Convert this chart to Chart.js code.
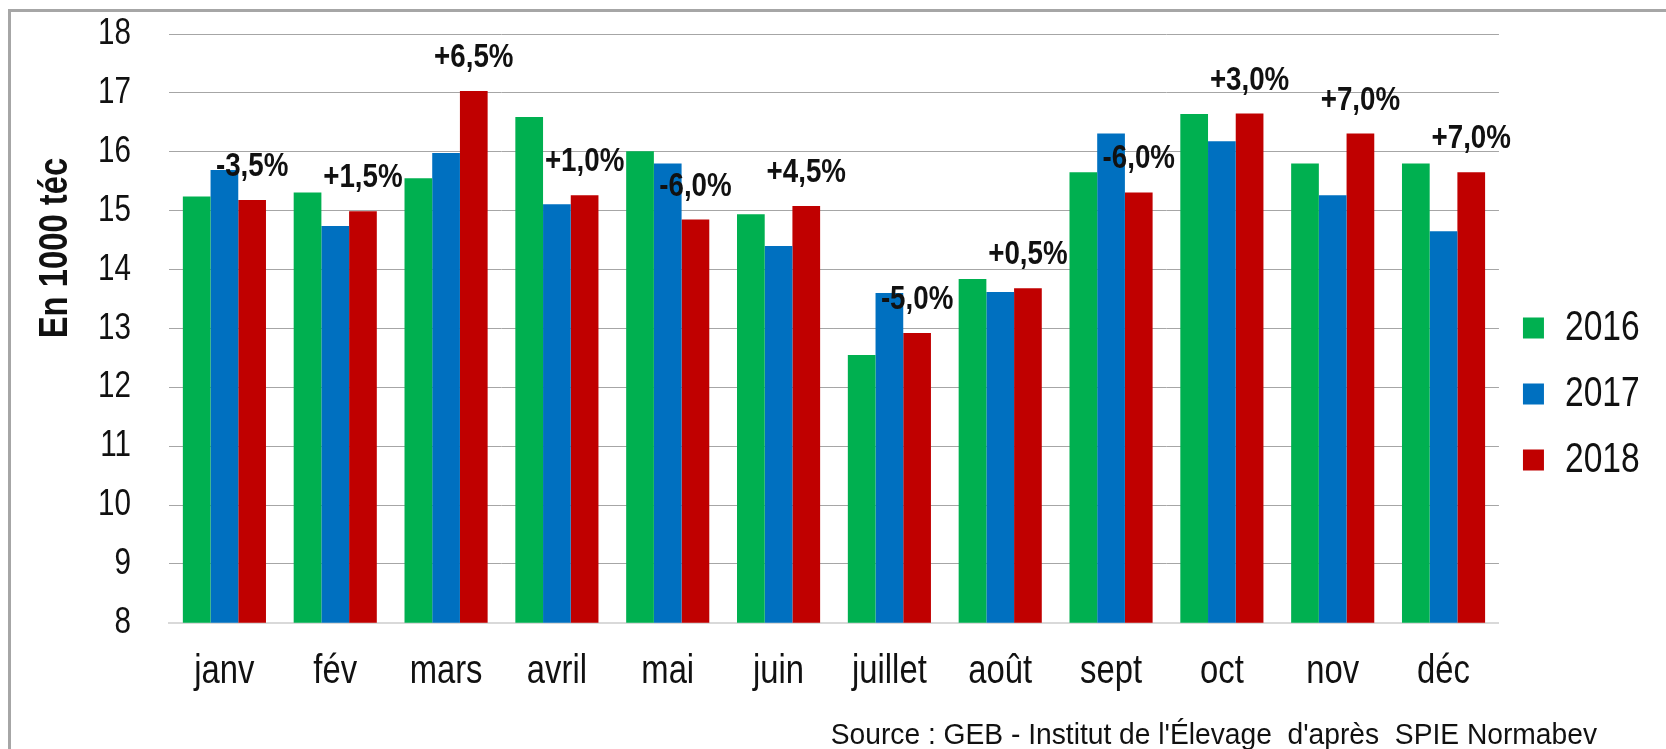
<!DOCTYPE html>
<html>
<head>
<meta charset="utf-8">
<script src="https://cdn.jsdelivr.net/npm/chart.js@4.4.1/dist/chart.umd.min.js"></script>
<style>
  html, body { margin: 0; padding: 0; background: #ffffff; }
  #wrap { position: relative; width: 1666px; height: 749px; overflow: hidden; }
  #frame { position: absolute; left: 8px; top: 9px; width: 1700px; height: 800px;
           border-top: 3px solid #a6a6a6; border-left: 3px solid #a6a6a6; box-sizing: border-box; }
  #c { position: absolute; left: 0; top: 0; }
</style>
</head>
<body>
<div id="wrap">
  <div id="frame"></div>
  <canvas id="c" width="1666" height="749"></canvas>
</div>
<script>
const months = ['janv', 'fév', 'mars', 'avril', 'mai', 'juin', 'juillet', 'août', 'sept', 'oct', 'nov', 'déc'];
const years = ['2016', '2017', '2018'];
const v2016 = [15.24, 15.31, 15.55, 16.59, 16.01, 14.94, 12.55, 13.84, 15.65, 16.64, 15.80, 15.80];
const v2017 = [15.69, 14.74, 15.98, 15.11, 15.80, 14.40, 13.60, 13.62, 16.31, 16.18, 15.26, 14.65];
const v2018 = [15.18, 14.99, 17.03, 15.26, 14.85, 15.08, 12.92, 13.68, 15.31, 16.65, 16.31, 15.65];
const changes = ['-3,5%', '+1,5%', '+6,5%', '+1,0%', '-6,0%', '+4,5%', '-5,0%', '+0,5%', '-6,0%', '+3,0%', '+7,0%', '+7,0%'];
const yTitle = 'En 1000 téc';
const sourceText = "Source : GEB - Institut de l'Élevage  d'après  SPIE Normabev";

const FONT = "'Liberation Sans', Arial, sans-serif";
const colors = ['#00b050', '#0070c0', '#c00000'];

// Narrow (condensed) text rendering: squeeze glyphs horizontally around their anchor
const canvas = document.getElementById('c');
const ctx2d = canvas.getContext('2d');
const SQUEEZE = 0.8;
const origFill = ctx2d.fillText.bind(ctx2d);
const origMeasure = ctx2d.measureText.bind(ctx2d);
ctx2d.fillText = function (text, x, y, maxWidth) {
  const s = this.__sq || SQUEEZE;
  this.save();
  this.translate(x, y);
  this.scale(s, 1);
  if (maxWidth !== undefined) origFill(text, 0, 0, maxWidth / s);
  else origFill(text, 0, 0);
  this.restore();
};
ctx2d.measureText = function (text) {
  const s = this.__sq || SQUEEZE;
  const m = origMeasure(text);
  return {
    width: m.width * s,
    actualBoundingBoxAscent: m.actualBoundingBoxAscent,
    actualBoundingBoxDescent: m.actualBoundingBoxDescent,
    actualBoundingBoxLeft: m.actualBoundingBoxLeft * s,
    actualBoundingBoxRight: m.actualBoundingBoxRight * s
  };
};

const extras = {
  id: 'extras',
  afterDatasetsDraw(chart) {
    const ctx = chart.ctx;
    const meta = chart.getDatasetMeta(2);
    ctx.save();
    ctx.__sq = 0.84;
    ctx.fillStyle = '#111111';
    ctx.font = 'bold 33px ' + FONT;
    ctx.textAlign = 'center';
    ctx.textBaseline = 'middle';
    meta.data.forEach((el, i) => {
      ctx.fillText(changes[i], el.x, el.y - 33);
    });
    ctx.__sq = 0;
    ctx.restore();
  },
  afterDraw(chart) {
    const ctx = chart.ctx;
    ctx.save();
    ctx.fillStyle = '#111111';
    ctx.font = 'bold 41px ' + FONT;
    ctx.textAlign = 'center';
    ctx.textBaseline = 'middle';
    ctx.translate(56, 248);
    ctx.rotate(-Math.PI / 2);
    ctx.fillText(yTitle, 0, 0);
    ctx.restore();
    ctx.save();
    ctx.__sq = 0.94;
    ctx.fillStyle = '#111111';
    ctx.font = '30px ' + FONT;
    ctx.textAlign = 'right';
    ctx.textBaseline = 'alphabetic';
    ctx.fillText(sourceText, 1597, 744);
    ctx.__sq = 0;
    ctx.restore();
  }
};

new Chart(canvas, {
  type: 'bar',
  data: {
    labels: months,
    datasets: [
      { label: years[0], data: v2016, backgroundColor: colors[0] },
      { label: years[1], data: v2017, backgroundColor: colors[1] },
      { label: years[2], data: v2018, backgroundColor: colors[2] }
    ]
  },
  options: {
    responsive: false,
    animation: false,
    layout: { padding: { left: 0, top: 34, right: 16.3, bottom: 29 } },
    datasets: { bar: { categoryPercentage: 0.75, barPercentage: 1.0, borderWidth: 0 } },
    scales: {
      x: {
        grid: { display: false, drawTicks: false },
        border: { display: true, color: '#d9d9d9', width: 2 },
        ticks: { color: '#111111', padding: 24, font: { family: FONT, size: 41 } }
      },
      y: {
        min: 8, max: 18,
        afterFit(scale) { scale.width = 169; scale.paddingTop = 22; scale.paddingBottom = 0; },
        grid: { color: '#a6a6a6', lineWidth: 1, drawTicks: false },
        border: { display: false },
        ticks: { stepSize: 1, color: '#111111', padding: 38, font: { family: FONT, size: 37 } }
      }
    },
    plugins: {
      tooltip: { enabled: false },
      legend: {
        position: 'right',
        align: 'start',
        title: { display: true, text: '', font: { size: 10 }, padding: { top: 237, bottom: 0 } },
        labels: {
          boxWidth: 21, boxHeight: 21, padding: 24, color: '#111111',
          font: { family: FONT, size: 42 }
        }
      }
    }
  },
  plugins: [extras]
});
</script>
</body>
</html>
